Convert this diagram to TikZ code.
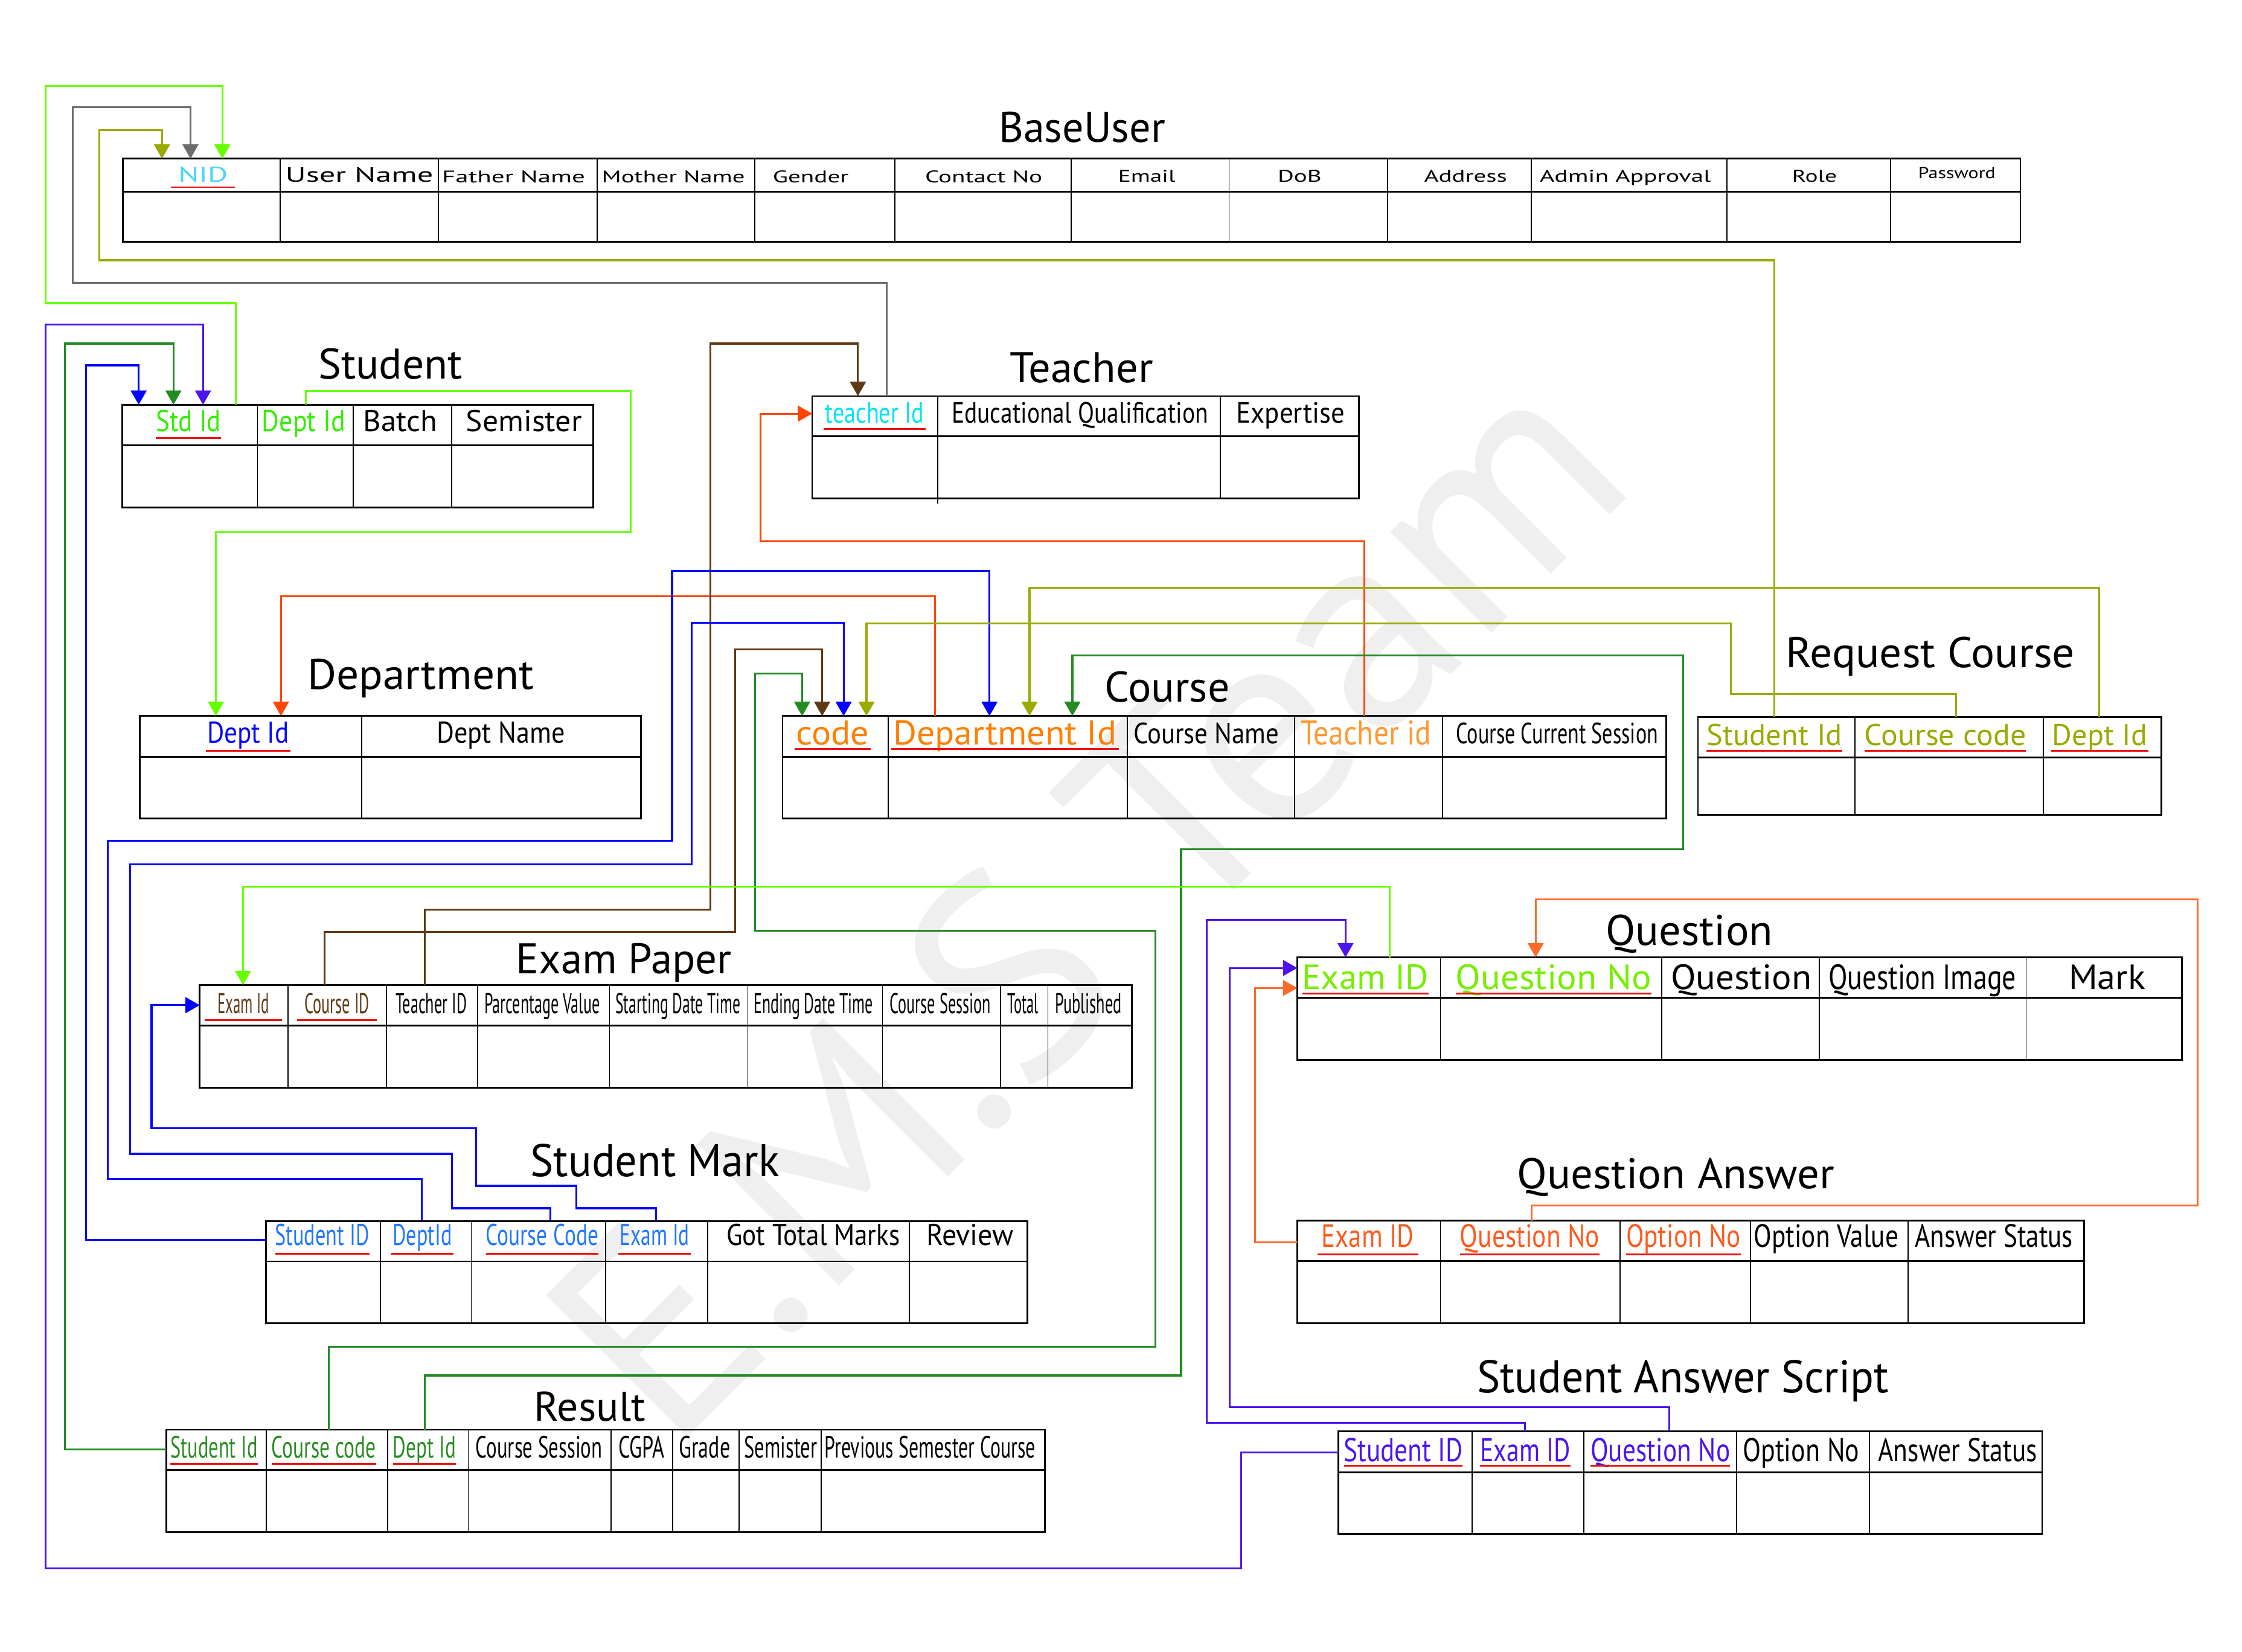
\documentclass[tikz,border=0pt]{standalone}
\usepackage{fontspec}
\setmainfont{PT Sans}
\usepackage{graphicx}
\usetikzlibrary{arrows.meta}
\definecolor{nidc}{HTML}{4CD3FA}
\definecolor{stgreen}{HTML}{33EE00}
\definecolor{tcyan}{HTML}{00E5F0}
\definecolor{deptblue}{HTML}{0000FF}
\definecolor{corange}{HTML}{FF7F00}
\definecolor{corange2}{HTML}{FF9933}
\definecolor{olivec}{HTML}{99AA00}
\definecolor{brownc}{HTML}{603813}
\definecolor{smblue}{HTML}{2277FF}
\definecolor{dgreen}{HTML}{2A8C22}
\definecolor{qlime}{HTML}{77EE00}
\definecolor{qorange}{HTML}{FF5A1E}
\definecolor{indigoc}{HTML}{4B14F0}
\definecolor{limeL}{HTML}{66FF00}
\definecolor{grayL}{HTML}{6D6D6D}
\definecolor{oliveL}{HTML}{9AAA00}
\definecolor{dgreenL}{HTML}{228B22}
\definecolor{blueL}{HTML}{0000FF}
\definecolor{indigoL}{HTML}{4B14F0}
\definecolor{brownL}{HTML}{603813}
\definecolor{oredL}{HTML}{FF4500}
\definecolor{orangeL}{HTML}{FF6A2A}
\definecolor{ulred}{HTML}{EE1111}
\definecolor{wmark}{HTML}{EFEFEF}
\tikzset{
  lab/.style={anchor=base, inner sep=0pt, outer sep=0pt},
  frame/.style={line width=1.2pt, black},
  divl/.style={line width=0.8pt, black},
  ulst/.style={line width=1.2pt, ulred},
  fk/.style={line width=1.3pt, -{Triangle[length=10pt,width=11pt]}},
  ln/.style={line width=1.3pt}
}
\newcommand\lbl[7]{\node[lab,text=#6,font=\fontsize{#4}{#4}\selectfont] (#1) at (#2,#3) {\resizebox{#5pt}{\height}{#7}};}
\newcommand\ul[3]{\draw[ulst] ([yshift=-#2pt,xshift=-#3pt]#1.base west) -- ([yshift=-#2pt,xshift=#3pt]#1.base east);}
\newcommand\tbl[6]{\draw[frame] (#1,#2) rectangle (#5,#4); \draw[frame] (#1,#3) -- (#5,#3); \foreach \d in {#6} {\draw[divl] (\d,#2) -- (\d,#4);}}
\newcommand\ttl[6]{\node[lab,font=\fontsize{#4}{#4}\selectfont] (#1) at (#2,#3) {\resizebox{#5pt}{\height}{#6}};}
\begin{document}
\begin{tikzpicture}[x=1pt,y=-1pt]
\useasboundingbox (0,0) rectangle (1568,1155);
% watermark
\node[lab, rotate=45, text=wmark, font=\fontsize{200}{200}\selectfont] (wm) at (808,678) {E.M.S Team};

% ---------- tables ----------
\tbl{86}{111}{134}{169.3}{1413}{196,306.5,417.6,528,626,749,859.6,970.3,1070.8,1207.8,1322.3}
\tbl{85.5}{283.1}{311.3}{354.9}{415}{180.1,247.2,315.8}
\tbl{568}{277}{305}{348.6}{950.3}{853.4}
\draw[divl] (656,277) -- (656,352);
\tbl{97.7}{500.8}{529.3}{572.6}{448.3}{252.8}
\tbl{547.3}{500.8}{529.3}{572.6}{1165.3}{621.1,788.3,905.4,1008.9}
\tbl{1187.5}{501.4}{529.6}{569.8}{1511.7}{1297.2,1429.2}
\tbl{139.7}{689}{717.4}{760.9}{791.7}{201.6,270.2,334.2,426.3,523,617.2,699.6,732.9}
\tbl{186}{854}{882.2}{925.6}{718.5}{266,329.6,423.7,494.9,636}
\tbl{116.2}{1000}{1028}{1071.6}{730.8}{186.3,271.2,327.5,427.3,470.3,516.9,574.2}
\tbl{907.3}{669.6}{698}{741.5}{1525.9}{1007.4,1162.2,1272.5,1417}
\tbl{907.3}{853.7}{881.8}{925.6}{1457.5}{1007.4,1132.9,1224.2,1334.5}
\tbl{936.1}{1001}{1029.9}{1073}{1428.2}{1029.4,1107.5,1214.4,1307.6}

% ---------- titles ----------
\ttl{t-bu}{756.8}{99.3}{30}{116.5}{BaseUser}
\ttl{t-st}{273}{265.2}{30}{100.8}{Student}
\ttl{t-te}{756.3}{267.5}{30}{100.3}{Teacher}
\ttl{t-de}{294.3}{482}{30}{158.6}{Department}
\ttl{t-co}{816.4}{491}{30}{87.3}{Course}
\ttl{t-rc}{1350}{467}{30}{202}{Request Course}
\ttl{t-ep}{436.3}{681}{30}{151}{Exam Paper}
\ttl{t-sm}{458}{823}{32}{174}{Student Mark}
\ttl{t-re}{412.5}{994}{29}{77.8}{Result}
\ttl{t-qu}{1181.5}{661}{30}{117}{Question}
\ttl{t-qa}{1172}{831.4}{30}{222}{Question Answer}
\ttl{t-sa}{1177}{974.2}{32}{288}{Student Answer Script}

% ---------- BaseUser headers ----------
\lbl{bu-nid}{142}{127.4}{15}{34.6}{nidc}{NID}\ul{bu-nid}{3.5}{5}
\lbl{bu-un}{251.3}{127.3}{14.5}{103.4}{black}{User Name}
\lbl{bu-fn}{359.2}{127.8}{11.8}{100}{black}{Father Name}
\lbl{bu-mn}{470.9}{127.8}{11.8}{100}{black}{Mother Name}
\lbl{bu-ge}{567}{127.8}{11.8}{53}{black}{Gender}
\lbl{bu-cn}{688}{127.8}{11.8}{82}{black}{Contact No}
\lbl{bu-em}{802}{127.4}{11.8}{40}{black}{Email}
\lbl{bu-db}{909}{127.4}{11.8}{30.7}{black}{DoB}
\lbl{bu-ad}{1025}{127.4}{11.8}{58}{black}{Address}
\lbl{bu-aa}{1136.7}{127.4}{11.8}{119.6}{black}{Admin Approval}
\lbl{bu-ro}{1269}{127.4}{11.8}{31.3}{black}{Role}
\lbl{bu-pw}{1368.6}{124.6}{11}{54}{black}{Password}

% ---------- Student ----------
\lbl{st-id}{131.8}{301.9}{21}{45.6}{stgreen}{Std Id}\ul{st-id}{4.5}{0}
\lbl{st-de}{212.4}{301.9}{21}{58.4}{stgreen}{Dept Id}
\lbl{st-ba}{280}{301.9}{21}{51.7}{black}{Batch}
\lbl{st-se}{366.4}{301.9}{21}{81}{black}{Semister}

% ---------- Teacher ----------
\lbl{te-id}{611.7}{296}{20.5}{69}{tcyan}{teacher Id}\ul{te-id}{4}{1}
\lbl{te-eq}{755.3}{296}{20.5}{179.2}{black}{Educational Qualification}
\lbl{te-ex}{902.7}{296}{20.5}{75.8}{black}{Expertise}

% ---------- Department ----------
\lbl{de-id}{173.5}{519.5}{21}{57.3}{deptblue}{Dept Id}\ul{de-id}{5.5}{1}
\lbl{de-nm}{350.3}{519.5}{21}{89.6}{black}{Dept Name}

% ---------- Course ----------
\lbl{co-cd}{582.3}{521}{24}{51.2}{corange}{code}\ul{co-cd}{3}{1}
\lbl{co-di}{702.8}{521}{24}{156.2}{corange}{Department Id}\ul{co-di}{3}{1.5}
\lbl{co-cn}{843.6}{520}{20.5}{101.8}{black}{Course Name}
\lbl{co-ti}{955.4}{521}{24}{91.2}{corange2}{Teacher id}
\lbl{co-cs}{1089}{520}{20.5}{141.2}{black}{Course Current Session}

% ---------- Request Course ----------
\lbl{rc-si}{1241}{521.3}{21}{94.8}{olivec}{Student Id}\ul{rc-si}{4}{0}
\lbl{rc-cc}{1360.5}{521.3}{21}{113}{olivec}{Course code}\ul{rc-cc}{4}{0}
\lbl{rc-di}{1468.5}{521.3}{21}{66.3}{olivec}{Dept Id}\ul{rc-di}{4}{1}

% ---------- Exam Paper ----------
\lbl{ep-ei}{170.2}{709}{20}{36.3}{brownc}{Exam Id}\ul{ep-ei}{4.6}{9}
\lbl{ep-ci}{235.7}{709}{20}{45.5}{brownc}{Course ID}\ul{ep-ci}{4.6}{5}
\lbl{ep-ti}{301.7}{709}{20}{49.6}{black}{Teacher ID}
\lbl{ep-pv}{379.2}{709}{20}{80.9}{black}{Parcentage Value}
\lbl{ep-sd}{474.2}{709}{20}{87.5}{black}{Starting Date Time}
\lbl{ep-ed}{568.8}{709}{20}{83.4}{black}{Ending Date Time}
\lbl{ep-cs}{657.6}{709}{20}{70.6}{black}{Course Session}
\lbl{ep-to}{715.5}{709}{20}{21.5}{black}{Total}
\lbl{ep-pu}{761.3}{709}{20}{46.5}{black}{Published}

% ---------- Student Mark ----------
\lbl{sm-si}{225.4}{871}{21}{66}{smblue}{Student ID}\ul{sm-si}{6}{0}
\lbl{sm-di}{295.5}{871}{21}{41.5}{smblue}{DeptId}\ul{sm-di}{6}{1}
\lbl{sm-cc}{379.2}{871}{21}{78.8}{smblue}{Course Code}\ul{sm-cc}{6}{0}
\lbl{sm-ei}{457.8}{871}{21}{48.6}{smblue}{Exam Id}\ul{sm-ei}{6}{1}
\lbl{sm-gt}{568.8}{871}{21}{121.3}{black}{Got Total Marks}
\lbl{sm-rv}{678.4}{871}{21}{60.9}{black}{Review}

% ---------- Result ----------
\lbl{re-si}{149.7}{1019.5}{21.5}{60.9}{dgreen}{Student Id}\ul{re-si}{4.3}{0}
\lbl{re-cc}{226.5}{1019.5}{21.5}{73.1}{dgreen}{Course code}\ul{re-cc}{4.3}{0}
\lbl{re-di}{296.8}{1019.5}{21.5}{44}{dgreen}{Dept Id}\ul{re-di}{4.3}{0}
\lbl{re-cs}{377}{1019.5}{21.5}{88.5}{black}{Course Session}
\lbl{re-cg}{448.6}{1019.5}{21.5}{32.3}{black}{CGPA}
\lbl{re-gr}{492.8}{1019.5}{21.5}{35.8}{black}{Grade}
\lbl{re-se}{546}{1019.5}{21.5}{51.1}{black}{Semister}
\lbl{re-ps}{650.5}{1019.5}{21.5}{147.3}{black}{Previous Semester Course}

% ---------- Question ----------
\lbl{qu-ei}{954.9}{691.9}{24.5}{88.4}{qlime}{Exam ID}\ul{qu-ei}{3}{0}
\lbl{qu-qn}{1086.5}{691.9}{24.5}{136.7}{qlime}{Question No}\ul{qu-qn}{3}{0}
\lbl{qu-qq}{1217.8}{691.9}{24.5}{98.6}{black}{Question}
\lbl{qu-qi}{1344.5}{691.9}{24.5}{131.3}{black}{Question Image}
\lbl{qu-mk}{1473.7}{691.9}{24.5}{53.7}{black}{Mark}

% ---------- Question Answer ----------
\lbl{qa-ei}{956.6}{872.4}{22.5}{64.5}{qorange}{Exam ID}\ul{qa-ei}{5}{3}
\lbl{qa-qn}{1069.9}{872.4}{22.5}{97.6}{qorange}{Question No}\ul{qa-qn}{5}{0}
\lbl{qa-on}{1177.3}{872.4}{22.5}{80.1}{qorange}{Option No}\ul{qa-on}{5}{0}
\lbl{qa-ov}{1277.2}{872.4}{22.5}{101.1}{black}{Option Value}
\lbl{qa-as}{1394.6}{872.4}{22.5}{110.4}{black}{Answer Status}

% ---------- Student Answer Script ----------
\lbl{sa-si}{981.5}{1022}{23}{83}{indigoc}{Student ID}\ul{sa-si}{3.2}{0}
\lbl{sa-ei}{1066.7}{1022}{23}{63}{indigoc}{Exam ID}\ul{sa-ei}{3.2}{0}
\lbl{sa-qn}{1161.2}{1022}{23}{97.6}{indigoc}{Question No}\ul{sa-qn}{3.2}{0}
\lbl{sa-on}{1259.6}{1022}{23}{81.5}{black}{Option No}
\lbl{sa-as}{1369.2}{1022}{23}{111.3}{black}{Answer Status}

% ---------- connector end points ----------
\coordinate (nid-a) at (113.3,111);
\coordinate (nid-b) at (133.2,111);
\coordinate (nid-c) at (155.5,111);
\coordinate (std-a) at (97,283.1);
\coordinate (std-b) at (121.3,283.1);
\coordinate (std-c) at (142,283.1);
\coordinate (std-o) at (165,283.1);
\coordinate (stdept-o) at (214,283.1);
\coordinate (tid-t) at (600,277);
\coordinate (tid-l) at (568,289.3);
\coordinate (tch-o) at (620,277);
\coordinate (did-a) at (151,500.8);
\coordinate (did-b) at (196.5,500.8);
\coordinate (cc-a) at (561,500.8);
\coordinate (cc-b) at (575,500.8);
\coordinate (cc-c) at (590,500.8);
\coordinate (cc-d) at (606,500.8);
\coordinate (cd-a) at (692,500.8);
\coordinate (cd-b) at (720,500.8);
\coordinate (cd-c) at (750,500.8);
\coordinate (cd-o) at (654,500.8);
\coordinate (ct-o) at (954,500.8);
\coordinate (rcs-o) at (1241,501.4);
\coordinate (rcc-o) at (1368,501.4);
\coordinate (rcd-o) at (1468,501.4);
\coordinate (epe-i) at (170,689);
\coordinate (epc-o) at (227,689);
\coordinate (ept-o) at (297,689);
\coordinate (ep-l) at (139.7,703);
\coordinate (sms-o) at (186,867);
\coordinate (smd-o) at (295,854);
\coordinate (smc-o) at (385,854);
\coordinate (sme-o) at (459,854);
\coordinate (res-o) at (116.2,1013.7);
\coordinate (rec-o) at (230,1000);
\coordinate (red-o) at (297,1000);
\coordinate (que-o) at (972,669.6);
\coordinate (qu-a) at (941,669.6);
\coordinate (qu-b) at (907.3,677);
\coordinate (qu-c) at (907.3,691);
\coordinate (qu-d) at (1074,669.6);
\coordinate (qae-o) at (907.3,869);
\coordinate (qaq-o) at (1071,853.7);
\coordinate (sas-o) at (936.1,1016);
\coordinate (sae-o) at (1066.5,1001);
\coordinate (saq-o) at (1167.5,1001);

% ---------- connectors ----------
\draw[fk,limeL] (std-o) -- (165,212) -- (32,212) -- (32,60) -- (155.5,60) -- (nid-c);
\draw[fk,grayL] (tch-o) -- (620,198) -- (50.7,198) -- (50.7,75) -- (133.2,75) -- (nid-b);
\draw[fk,oliveL] (rcs-o) -- (1241,182) -- (69.6,182) -- (69.6,91) -- (113.3,91) -- (nid-a);
\draw[fk,limeL] (stdept-o) -- (214,273.4) -- (441,273.4) -- (441,372.3) -- (151,372.3) -- (did-a);
\draw[fk,oredL] (cd-o) -- (654,417) -- (196.5,417) -- (did-b);
\draw[fk,oredL] (ct-o) -- (954,378.4) -- (532,378.4) -- (532,289.3) -- (tid-l);
\draw[fk,brownL] (ept-o) -- (297,636) -- (497,636) -- (497,240.3) -- (600,240.3) -- (tid-t);
\draw[fk,brownL] (epc-o) -- (227,652) -- (514,652) -- (514,454.3) -- (575,454.3) -- (cc-b);
\draw[fk,blueL] (smd-o) -- (295,824.4) -- (75.2,824.4) -- (75.2,588) -- (470,588) -- (470,399.3) -- (692,399.3) -- (cd-a);
\draw[fk,blueL] (smc-o) -- (385,845) -- (316,845) -- (316,807) -- (91,807) -- (91,604.5) -- (483.6,604.5) -- (483.6,435.6) -- (590,435.6) -- (cc-c);
\draw[fk,blueL] (sme-o) -- (459,845) -- (403,845) -- (403,829.4) -- (333,829.4) -- (333,789) -- (106,789) -- (106,703) -- (ep-l);
\draw[fk,blueL] (sms-o) -- (60,867) -- (60,255.5) -- (97,255.5) -- (std-a);
\draw[fk,dgreenL] (res-o) -- (45.5,1013.7) -- (45.5,240.3) -- (121.3,240.3) -- (std-b);
\draw[fk,dgreenL] (rec-o) -- (230,942) -- (808,942) -- (808,651) -- (528,651) -- (528,471) -- (561,471) -- (cc-a);
\draw[fk,dgreenL] (red-o) -- (297,962) -- (826,962) -- (826,594) -- (1177,594) -- (1177,458.5) -- (750,458.5) -- (cd-c);
\draw[fk,oliveL] (rcc-o) -- (1368,485.6) -- (1210.6,485.6) -- (1210.6,436) -- (606,436) -- (cc-d);
\draw[fk,oliveL] (rcd-o) -- (1468,411) -- (720,411) -- (cd-b);
\draw[fk,limeL] (que-o) -- (972,620) -- (170,620) -- (epe-i);
\draw[fk,indigoL] (sae-o) -- (1066.5,995) -- (844,995) -- (844,643.4) -- (941,643.4) -- (qu-a);
\draw[fk,indigoL] (saq-o) -- (1167.5,984) -- (860,984) -- (860,677) -- (qu-b);
\draw[fk,orangeL] (qae-o) -- (877.6,869) -- (877.6,691) -- (qu-c);
\draw[fk,orangeL] (qaq-o) -- (1071,843) -- (1537,843) -- (1537,629) -- (1074,629) -- (qu-d);
\draw[fk,indigoL] (sas-o) -- (868,1016) -- (868,1097) -- (31.7,1097) -- (31.7,226.8) -- (142,226.8) -- (std-c);
\end{tikzpicture}
\end{document}
